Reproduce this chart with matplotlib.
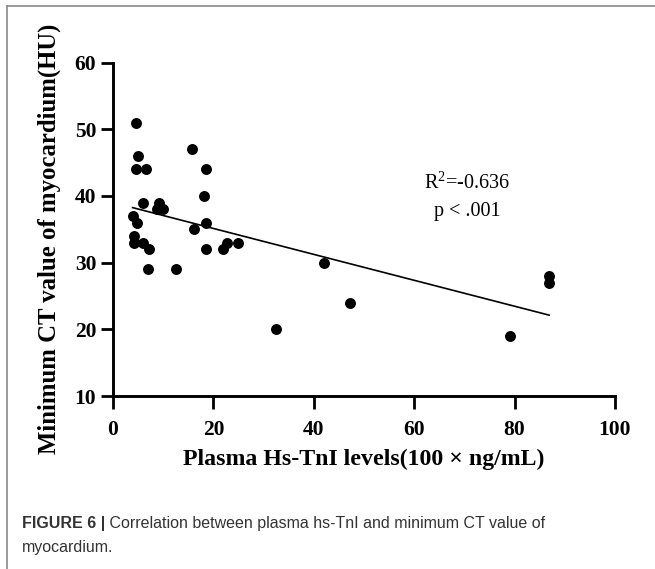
import numpy as np
import matplotlib
matplotlib.use("Agg")
import matplotlib.pyplot as plt
from matplotlib.lines import Line2D

# Data
hs_tni = [4.6, 5.0, 4.6, 6.6, 6.0, 9.2, 8.7, 10.0, 3.9, 4.7, 4.2, 4.1, 6.0, 7.2,
          6.9, 12.5, 15.8, 18.5, 18.2, 18.5, 16.2, 18.5, 22.0, 22.8, 25.0,
          32.5, 42.0, 47.2, 79.1, 86.9, 86.9]
min_ct = [51, 46, 44, 44, 39, 39, 38, 38, 37, 36, 34, 33, 33, 32,
          29, 29, 47, 44, 40, 36, 35, 32, 32, 33, 33,
          20, 30, 24, 19, 28, 27]
x_ticks = [0, 20, 40, 60, 80, 100]
y_ticks = [10, 20, 30, 40, 50, 60]
annot_r2 = "R$^2$=-0.636"
annot_p = "p < .001"
x_label = "Plasma Hs-TnI levels(100 × ng/mL)"
y_label = "Minimum CT value of myocardium(HU)"
caption_bold = "FIGURE 6 |"
caption_rest = " Correlation between plasma hs-TnI and minimum CT value of"
caption_line2 = "myocardium."

W, H = 655, 569
fig = plt.figure(figsize=(W / 100, H / 100), dpi=100)
ax = fig.add_axes([113 / W, 1 - 396 / H, 502 / W, 333.5 / H])

serif = "Liberation Serif"
plt.rcParams["mathtext.fontset"] = "custom"
plt.rcParams["mathtext.rm"] = serif
x = np.array(hs_tni)
y = np.array(min_ct)
ax.scatter(x, y, s=62, color="black", zorder=3, linewidths=0)

slope, intercept = np.polyfit(x, y, 1)
xl = np.array([x.min(), x.max()])
ax.plot(xl, slope * xl + intercept, color="black", lw=1.2, zorder=2)

ax.set_xlim(0, 100)
ax.set_ylim(10, 60)
ax.set_xticks(x_ticks)
ax.set_yticks(y_ticks)
for s in ["top", "right"]:
    ax.spines[s].set_visible(False)
for s in ["left", "bottom"]:
    ax.spines[s].set_linewidth(2.1)
ax.tick_params(axis="both", direction="out", length=9, width=2.0)
ax.tick_params(axis="y", pad=3)
ax.tick_params(axis="x", pad=8)
for lab in ax.get_xticklabels() + ax.get_yticklabels():
    lab.set_fontfamily(serif)
    lab.set_fontweight("bold")
    lab.set_fontsize(15.5)

ax.set_xlabel(x_label, fontfamily=serif, fontweight="bold", fontsize=17.2, va="center")
ax.xaxis.set_label_coords(0.5, (396 - 459) / 333.5)
ax.set_ylabel(y_label, fontfamily=serif, fontweight="bold", fontsize=17.8, va="center")
ax.yaxis.set_label_coords((49 - 113) / 502, (396 - 239) / 333.5)

ax.text(70.5, 41.9, annot_r2, fontfamily=serif, fontsize=14.5, ha="center", va="center")
ax.text(70.5, 37.7, annot_p, fontfamily=serif, fontsize=14.5, ha="center", va="center")

# Frame lines (top and left)
fig.add_artist(Line2D([7 / W, 7 / W], [0, 1 - 6 / H], transform=fig.transFigure,
                      color="#8a8a8a", lw=1.2))
fig.add_artist(Line2D([7 / W, 1], [1 - 6 / H, 1 - 6 / H], transform=fig.transFigure,
                      color="#8a8a8a", lw=1.2))

# Caption
cap_color = "#333333"
t1 = fig.text(22 / W, 1 - 528 / H, caption_bold, fontfamily="Liberation Sans",
              fontweight="bold", fontsize=11.5, color=cap_color, va="baseline")
fig.canvas.draw()
bb = t1.get_window_extent(renderer=fig.canvas.get_renderer())
fig.text(bb.x1 / W, 1 - 528 / H, caption_rest, fontfamily="Liberation Sans",
         fontsize=11.5, color=cap_color, va="baseline")
fig.text(22 / W, 1 - 552 / H, caption_line2, fontfamily="Liberation Sans",
         fontsize=11.5, color=cap_color, va="baseline")

fig.savefig("out.png", dpi=100)
